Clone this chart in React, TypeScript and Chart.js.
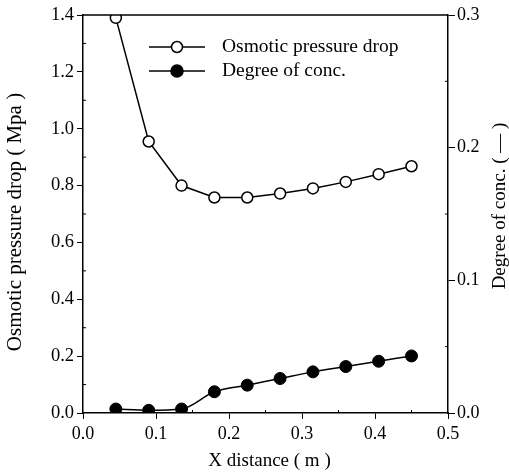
import React, { useEffect, useRef } from "react";
import { Chart, registerables } from "chart.js";

Chart.register(...registerables);

const xDistance = [0.045, 0.09, 0.135, 0.18, 0.225, 0.27, 0.315, 0.36, 0.405, 0.45];
const osmoticDrop = [1.39, 0.955, 0.8, 0.758, 0.758, 0.772, 0.79, 0.813, 0.84, 0.868];
const degreeConc = [0.003, 0.002, 0.003, 0.016, 0.021, 0.026, 0.031, 0.035, 0.039, 0.043];

const seriesNames = ["Osmotic pressure drop", "Degree of conc."];
const xTitle = "X distance ( m )";
const yLeftTitle = "Osmotic pressure drop ( Mpa )";
const yRightTitle = "Degree of conc. ( \u2014 )";

const FONT = "'Liberation Serif', 'DejaVu Serif', serif";

const W = 509;
const H = 474;

export default function App() {
  const ref = useRef<HTMLCanvasElement | null>(null);

  useEffect(() => {
    const canvas = ref.current;
    if (!canvas) return;

    const framePlugin = {
      id: "frame",
      afterDraw(chart: any) {
        const { ctx, chartArea } = chart;
        const { left, right, top, bottom } = chartArea;
        ctx.save();
        ctx.strokeStyle = "#000";
        ctx.lineWidth = 1.5;
        ctx.beginPath();
        ctx.moveTo(left, top);
        ctx.lineTo(right, top);
        ctx.stroke();

        // minor ticks
        ctx.lineWidth = 1;
        const ys = chart.scales.y;
        for (let v = 0.1; v < 1.4; v += 0.2) {
          const py = ys.getPixelForValue(v);
          ctx.beginPath();
          ctx.moveTo(left, py);
          ctx.lineTo(left + 3, py);
          ctx.stroke();
        }
        const y1 = chart.scales.y1;
        for (let v = 0.05; v < 0.3; v += 0.1) {
          const py = y1.getPixelForValue(v);
          ctx.beginPath();
          ctx.moveTo(right, py);
          ctx.lineTo(right - 3, py);
          ctx.stroke();
        }
        const xs = chart.scales.x;
        for (let v = 0.05; v < 0.5; v += 0.1) {
          const px = xs.getPixelForValue(v);
          ctx.beginPath();
          ctx.moveTo(px, bottom);
          ctx.lineTo(px, bottom - 3);
          ctx.stroke();
        }

        // titles
        ctx.fillStyle = "#000";
        ctx.textAlign = "center";
        ctx.textBaseline = "middle";
        ctx.font = `19px ${FONT}`;
        ctx.fillText(xTitle, (left + right) / 2 + 4, 461);

        ctx.save();
        ctx.font = `21px ${FONT}`;
        ctx.translate(15, 222);
        ctx.rotate(-Math.PI / 2);
        ctx.fillText(yLeftTitle, 0, 0);
        ctx.restore();

        ctx.save();
        ctx.font = `19px ${FONT}`;
        ctx.translate(500, 206);
        ctx.rotate(-Math.PI / 2);
        ctx.fillText(yRightTitle, 0, 0);
        ctx.restore();

        // legend
        const rows = [
          { y: 47, filled: false, text: seriesNames[0] },
          { y: 71, filled: true, text: seriesNames[1] },
        ];
        ctx.textAlign = "left";
        ctx.font = `19.5px ${FONT}`;
        for (const r of rows) {
          ctx.strokeStyle = "#000";
          ctx.lineWidth = 1.5;
          ctx.beginPath();
          ctx.moveTo(149, r.y);
          ctx.lineTo(205, r.y);
          ctx.stroke();
          ctx.beginPath();
          ctx.arc(177, r.y, r.filled ? 6 : 5.5, 0, Math.PI * 2);
          ctx.fillStyle = r.filled ? "#000" : "#fff";
          ctx.fill();
          ctx.stroke();
          ctx.fillStyle = "#000";
          ctx.fillText(r.text, 222, r.y);
        }
        ctx.restore();
      },
    };

    const chart = new Chart(canvas, {
      type: "line",
      data: {
        datasets: [
          {
            label: seriesNames[0],
            data: xDistance.map((x, i) => ({ x, y: osmoticDrop[i] })),
            yAxisID: "y",
            borderColor: "#000",
            borderWidth: 1.5,
            pointRadius: 5.5,
            pointBorderWidth: 1.5,
            pointBackgroundColor: "#fff",
            pointBorderColor: "#000",
            tension: 0,
          },
          {
            label: seriesNames[1],
            data: xDistance.map((x, i) => ({ x, y: degreeConc[i] })),
            yAxisID: "y1",
            borderColor: "#000",
            borderWidth: 1.5,
            pointRadius: 6,
            pointBorderWidth: 1,
            pointBackgroundColor: "#000",
            pointBorderColor: "#000",
            cubicInterpolationMode: "monotone",
          },
        ],
      },
      options: {
        responsive: false,
        animation: false,
        devicePixelRatio: 1,
        layout: { padding: { top: 15, left: 0, right: 0, bottom: 0 } },
        plugins: { legend: { display: false }, tooltip: { enabled: false } },
        scales: {
          x: {
            type: "linear",
            position: "bottom",
            min: 0,
            max: 0.5,
            afterFit: (s: any) => {
              s.height = H - 413;
            },
            ticks: {
              stepSize: 0.1,
              color: "#000",
              font: { family: FONT, size: 18 },
              padding: 4,
              maxRotation: 0,
              callback: (v: any) => Number(v).toFixed(1),
            },
            grid: {
              display: true,
              drawOnChartArea: false,
              drawTicks: true,
              tickLength: 6,
              color: "#000",
              lineWidth: 1,
            },
            border: { display: true, color: "#000", width: 1.5 },
          },
          y: {
            type: "linear",
            position: "left",
            min: 0,
            max: 1.4,
            afterFit: (s: any) => {
              s.width = 83;
            },
            ticks: {
              stepSize: 0.2,
              color: "#000",
              font: { family: FONT, size: 18.5 },
              padding: 3,
              callback: (v: any) => Number(v).toFixed(1),
            },
            grid: {
              display: true,
              drawOnChartArea: false,
              drawTicks: true,
              tickLength: 6,
              color: "#000",
              lineWidth: 1,
            },
            border: { display: true, color: "#000", width: 1.5 },
          },
          y1: {
            type: "linear",
            position: "right",
            min: 0,
            max: 0.3,
            afterFit: (s: any) => {
              s.width = W - 448;
            },
            ticks: {
              stepSize: 0.1,
              color: "#000",
              font: { family: FONT, size: 18 },
              padding: 2,
              callback: (v: any) => Number(v).toFixed(1),
            },
            grid: {
              display: true,
              drawOnChartArea: false,
              drawTicks: true,
              tickLength: 7,
              color: "#000",
              lineWidth: 1,
            },
            border: { display: true, color: "#000", width: 1.5 },
          },
        },
      },
      plugins: [framePlugin],
    } as any);

    return () => chart.destroy();
  }, []);

  return (
    <div style={{ position: "fixed", left: 0, top: 0, width: W, height: H, background: "#fff" }}>
      <canvas ref={ref} width={W} height={H} style={{ width: W, height: H, display: "block" }} />
    </div>
  );
}
